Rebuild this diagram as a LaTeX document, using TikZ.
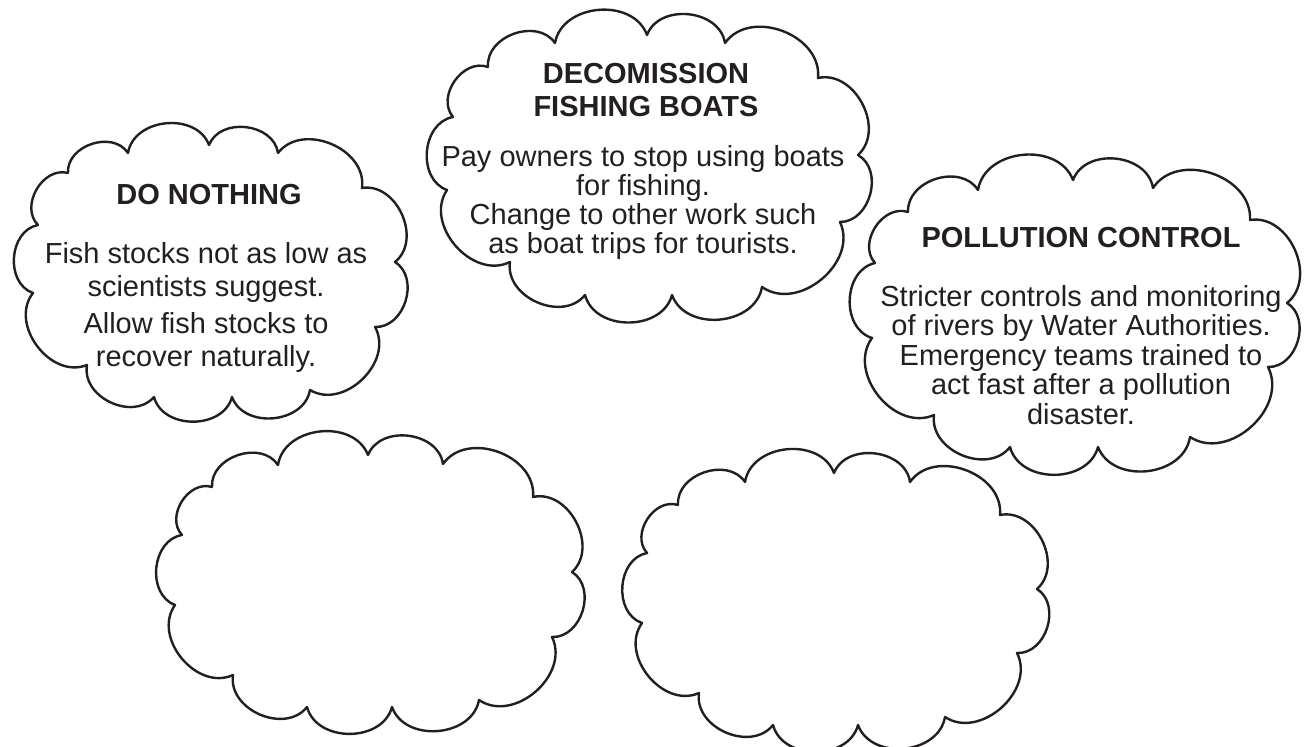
\documentclass[tikz,border=0pt]{standalone}
\usepackage{fontspec}
\setmainfont{Liberation Sans}
\definecolor{ink}{HTML}{231F20}
\begin{document}
\begin{tikzpicture}[x=0.5pt,y=-0.5pt,
  cloudline/.style={draw=ink, line width=1.2pt, line join=round, line cap=round},
  bulge/.style={bend left=75, looseness=1.12},
  title/.style={font=\fontsize{14.5}{16.5}\selectfont\bfseries, text=ink, inner sep=0pt, align=center},
  body/.style={font=\fontsize{14.5}{14.5}\selectfont, text=ink, inner sep=0pt, align=center}]
\useasboundingbox (0,0) rectangle (1315,747);

% cloud A: DO NOTHING
\draw[cloudline] (68,173) to[bulge] (128,153) to[bulge] (209,145) to[bulge] (278,153)
  to[bulge] (362,188) to[bulge] (395,262) to[bulge] (375,327) to[bulge] (310,390)
  to[bulge] (232,397) to[bulge] (154,397) to[bulge] (87,365) to[bulge] (33,293)
  to[bulge] (38,225) to[bulge] (68,173);
% cloud B: DECOMISSION
\draw[cloudline] (488,67) to[bulge] (555,43) to[bulge] (647,35) to[bulge] (725,43)
  to[bulge] (818,78) to[bulge] (858,155) to[bulge] (840,222) to[bulge] (762,287)
  to[bulge] (672,295) to[bulge] (585,295) to[bulge] (510,262) to[bulge] (447,190)
  to[bulge] (453,117) to[bulge] (488,67);
% cloud C: POLLUTION CONTROL
\draw[cloudline] (908,212) to[bulge] (978,190) to[bulge] (1073,180) to[bulge] (1153,188)
  to[bulge] (1250,220) to[bulge] (1287,303) to[bulge] (1268,367) to[bulge] (1190,437)
  to[bulge] (1098,447) to[bulge] (1010,447) to[bulge] (934,415) to[bulge] (872,338)
  to[bulge] (875,263) to[bulge] (908,212);
% cloud D: empty, bottom left
\draw[cloudline] (212,487) to[bulge] (278,465) to[bulge] (368,455) to[bulge] (443,464)
  to[bulge] (533,497) to[bulge] (572,572) to[bulge] (552,637) to[bulge] (479,700)
  to[bulge] (392,707) to[bulge] (307,707) to[bulge] (233,675) to[bulge] (175,605)
  to[bulge] (182,535) to[bulge] (212,487);
% cloud E: empty, bottom right
\draw[cloudline] (678,505) to[bulge] (745,482) to[bulge] (834,473) to[bulge] (910,482)
  to[bulge] (1000,515) to[bulge] (1037,589) to[bulge] (1017,653) to[bulge] (945,717)
  to[bulge] (858,725) to[bulge] (773,725) to[bulge] (699,693) to[bulge] (642,623)
  to[bulge] (647,553) to[bulge] (678,505);

\node[title, anchor=base] (tA) at (209,205) {DO NOTHING};
\node[body, anchor=north, font=\fontsize{14.5}{16.5}\selectfont] (bA) at (206,242)
  {Fish stocks not as low as\\scientists suggest.\\[2pt]Allow fish stocks to\\recover naturally.};

\node[title, anchor=north] (tB) at (646,63) {DECOMISSION\\FISHING BOATS};
\node[body, anchor=north] (bB) at (643,145)
  {Pay owners to stop using boats\\for fishing.\\Change to other work such\\as boat trips for tourists.};

\node[title, anchor=base] (tC) at (1081,248) {POLLUTION CONTROL};
\node[body, anchor=north, font=\fontsize{14.5}{14.75}\selectfont] (bC) at (1081,285)
  {Stricter controls and monitoring\\of rivers by Water Authorities.\\Emergency teams trained to\\act fast after a pollution\\disaster.};
\end{tikzpicture}
\end{document}
